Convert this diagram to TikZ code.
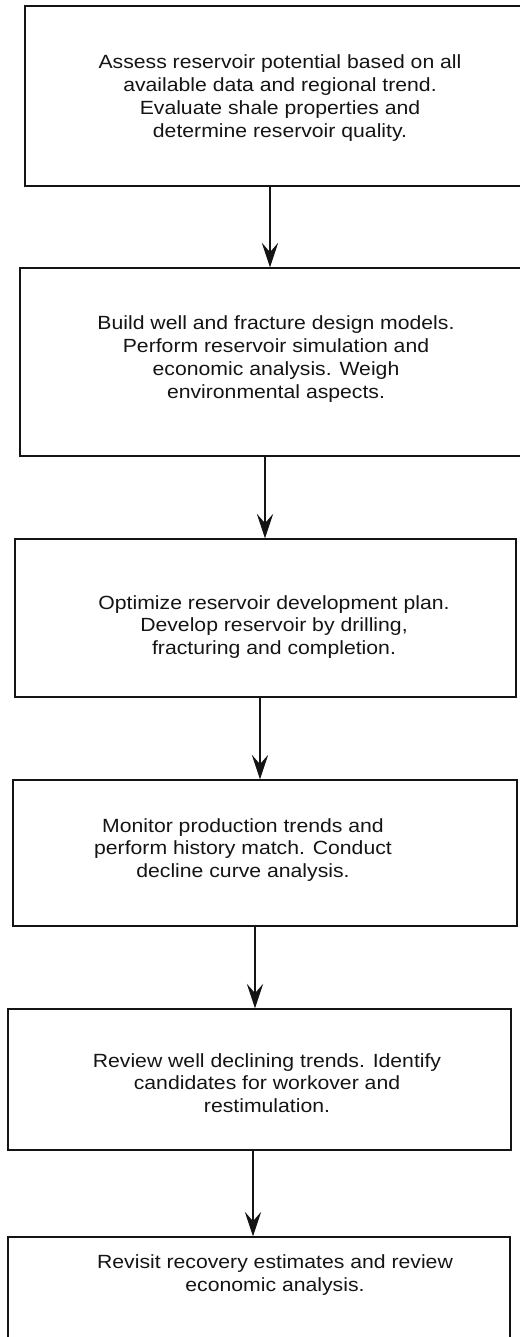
\documentclass[tikz,border=0pt]{standalone}
\usepackage{fontspec}
\setmainfont{Liberation Sans}[FakeStretch=1.11]
\usepackage{tikz}
\usetikzlibrary{arrows.meta}
\definecolor{Stroke}{HTML}{141414}

\begin{document}
\begin{tikzpicture}[x=0.03cm,y=-0.03cm,
  stage/.style={draw=Stroke,line width=1.1pt,inner sep=0pt},
  note/.style={align=center,inner sep=0pt,text=Stroke,font=\fontsize{16.3}{19.4}\selectfont},
  flow/.style={draw=Stroke,line width=1.1pt,-{Stealth[length=21pt,width=14pt,inset=8pt]}}]
\useasboundingbox (0,0) rectangle (519,1337);

% boxes
\node[stage,minimum width=15.30cm,minimum height=5.40cm] (b1) at (280,96) {};
\node[stage,minimum width=15.36cm,minimum height=5.64cm] (b2) at (276,362) {};
\node[stage,minimum width=15.03cm,minimum height=4.74cm] (b3) at (265.5,618) {};
\node[stage,minimum width=15.12cm,minimum height=4.38cm] (b4) at (265,853) {};
\node[stage,minimum width=15.09cm,minimum height=4.23cm] (b5) at (259.5,1079.5) {};
\node[stage,minimum width=15.06cm,minimum height=3.54cm] (b6) at (259,1296) {};

% texts
\node[note] (t1) at (280,98) {Assess reservoir potential based on all\\available data and regional trend.\\Evaluate shale properties and\\determine reservoir quality.};
\node[note] (t2) at (276,359) {Build well and fracture design models.\\Perform reservoir simulation and\\economic analysis. Weigh\\environmental aspects.};
\node[note] (t3) at (274,627) {Optimize reservoir development plan.\\Develop reservoir by drilling,\\fracturing and completion.};
\node[note] (t4) at (243,850) {Monitor production trends and\\perform history match. Conduct\\decline curve analysis.};
\node[note] (t5) at (267,1083) {Review well declining trends. Identify\\candidates for workover and\\restimulation.};
\node[note] (t6) at (275,1275) {Revisit recovery estimates and review\\economic analysis.};

% arrows
\coordinate (x1) at (270,0);
\coordinate (x2) at (265,0);
\coordinate (x3) at (260,0);
\coordinate (x4) at (255,0);
\coordinate (x5) at (253,0);
\draw[flow] (b1.south -| x1) -- (b2.north -| x1);
\draw[flow] (b2.south -| x2) -- (b3.north -| x2);
\draw[flow] (b3.south -| x3) -- (b4.north -| x3);
\draw[flow] (b4.south -| x4) -- (b5.north -| x4);
\draw[flow] (b5.south -| x5) -- (b6.north -| x5);
\end{tikzpicture}
\end{document}
